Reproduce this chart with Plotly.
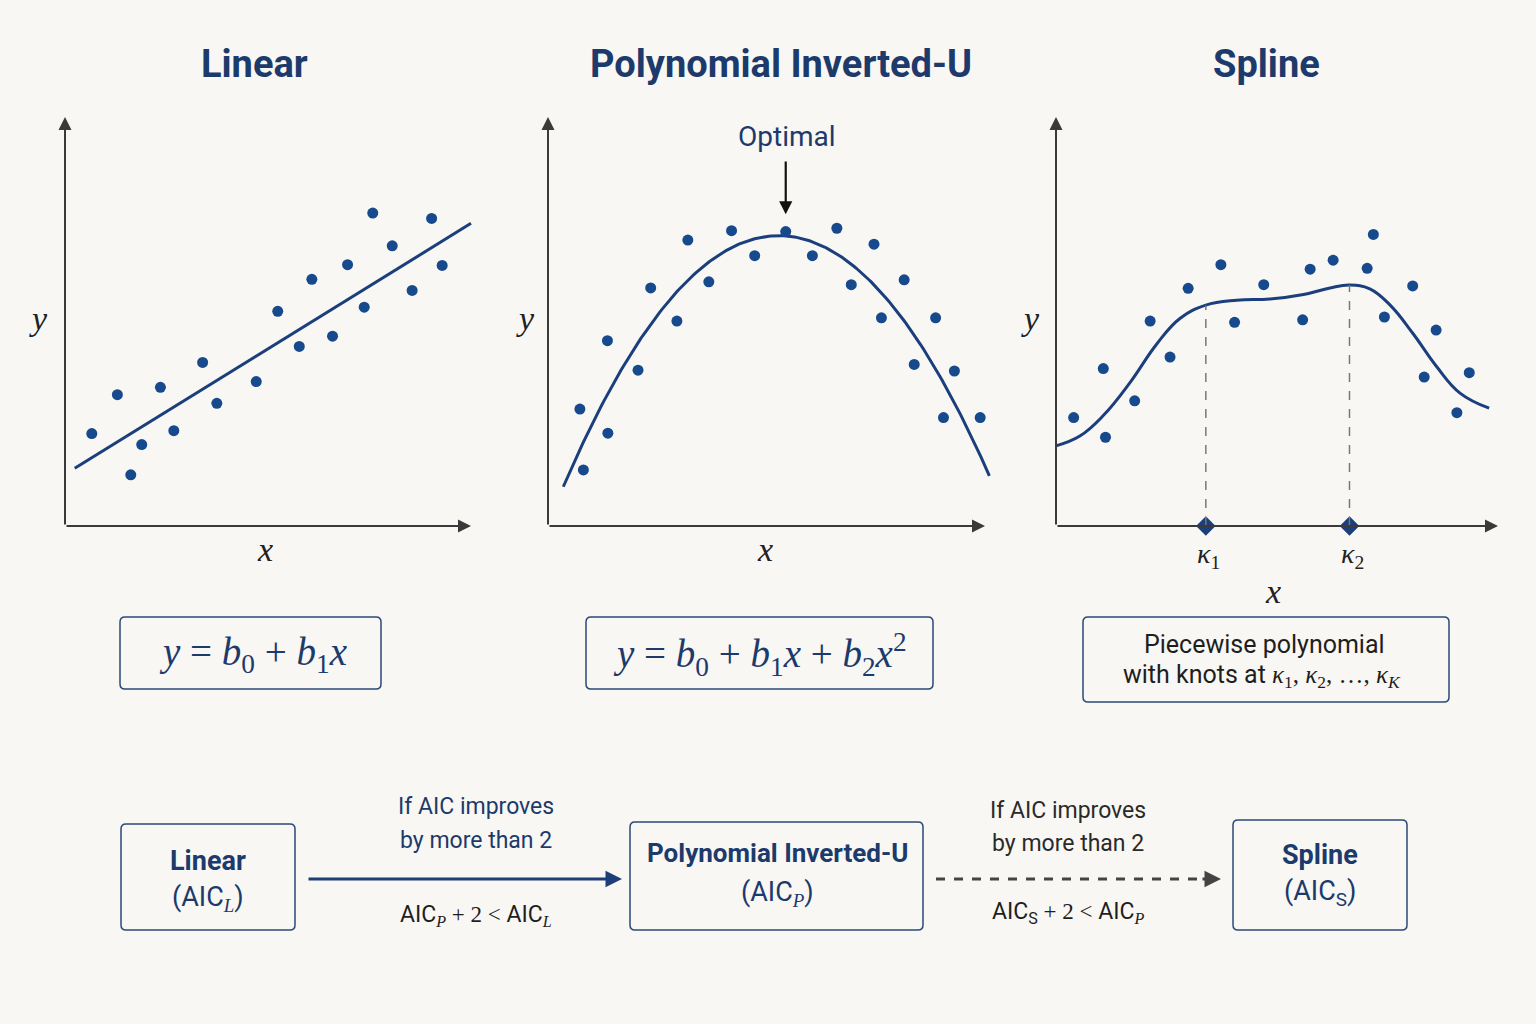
import numpy as np
import plotly.graph_objects as go

W, H = 1536, 1024
BG = "#f8f7f3"
NAVY = "#1c3a6b"
DOT = "#174a8c"
LINE = "#1a3f7c"
AXC = "#3a3a3a"
SANS = "Roboto"
SERIF = "Liberation Serif"

# ---------------- data (unitless 0-10 scales) ----------------
lin_x = [0.66, 1.29, 1.62, 1.89, 2.35, 2.68, 3.39, 3.74, 4.71, 5.24,
         5.77, 6.08, 6.59, 6.96, 7.37, 7.58, 8.06, 8.55, 9.03, 9.29]
lin_y = [2.26, 3.21, 1.25, 1.99, 3.39, 2.33, 4.00, 3.00, 3.53, 5.25,
         4.39, 6.03, 4.64, 6.39, 5.35, 7.65, 6.85, 5.76, 7.52, 6.37]
lin_fit_x = [0.24, 10.0]
lin_fit_y = [1.41, 7.40]

poly_x = [0.73, 0.81, 1.36, 1.37, 2.06, 2.35, 2.95, 3.20, 3.68, 4.20, 4.73, 5.44,
          6.05, 6.61, 6.94, 7.46, 7.63, 8.15, 8.38, 8.87, 9.05, 9.30, 9.89]
poly_y = [2.86, 1.37, 4.53, 2.27, 3.81, 5.82, 5.01, 6.99, 5.97, 7.22, 6.61, 7.20,
          6.61, 7.28, 5.90, 6.89, 5.09, 6.02, 3.95, 5.09, 2.65, 3.79, 2.65]
poly_coef = [0.057, 2.668, -0.2527]   # b0, b1, b2
poly_range = [0.35, 10.10]
optimal_x = 5.44

spl_x = [0.40, 1.07, 1.12, 1.78, 2.13, 2.58, 2.99, 3.73, 4.04, 4.70, 5.58,
         5.75, 6.27, 7.04, 7.18, 7.43, 8.07, 8.33, 8.60, 9.07, 9.35]
spl_y = [2.65, 3.85, 2.17, 3.06, 5.01, 4.13, 5.81, 6.39, 4.98, 5.90, 5.04,
         6.28, 6.50, 6.30, 7.13, 5.11, 5.87, 3.64, 4.79, 2.77, 3.75]
spl_curve_x = [0.0, 0.54, 1.07, 1.67, 2.28, 2.81, 3.39, 4.09, 4.84, 5.60, 6.20,
               6.64, 7.10, 7.56, 8.08, 8.61, 9.14, 9.80]
spl_curve_y = [1.96, 2.20, 2.70, 3.50, 4.45, 5.08, 5.40, 5.52, 5.55, 5.66, 5.82,
               5.89, 5.80, 5.40, 4.70, 3.90, 3.25, 2.88]
knots_x = [3.39, 6.64]
knots_y = [5.40, 5.89]
knot_labels = ["<i>κ</i><sub>1</sub>", "<i>κ</i><sub>2</sub>"]

titles = ["Linear", "Polynomial Inverted-U", "Spline"]

# ---------------- layout geometry (pixels) ----------------
panels = [(65, 471), (548, 985), (1056, 1498)]   # x origin, x arrow tip
TOP, BASE = 117, 526
XR = [-0.3, 10.45]
YR = [-0.3, 10.3]


def PX(x):
    return x / W


def PY(y):
    return 1 - y / H


fig = go.Figure()
layout_axes = {}
sy = (BASE - TOP) / 10.0
for i, (ox, tx) in enumerate(panels):
    sx = (tx - ox) / 10.0
    sfx = "" if i == 0 else str(i + 1)
    layout_axes["xaxis" + sfx] = dict(
        domain=[PX(ox + XR[0] * sx), PX(ox + XR[1] * sx)], range=XR,
        visible=False, anchor="y" + sfx, fixedrange=True)
    layout_axes["yaxis" + sfx] = dict(
        domain=[PY(BASE - YR[0] * sy), PY(BASE - YR[1] * sy)], range=YR,
        visible=False, anchor="x" + sfx, fixedrange=True)

annotations = []
shapes = []


def txt(x, y, text, size, color, family=SANS):
    return dict(x=PX(x), y=PY(y), xref="paper", yref="paper", text=text, showarrow=False,
                xanchor="center", yanchor="middle",
                font=dict(family=family, size=size, color=color))


def serif(s):
    return f"<span style='font-family:{SERIF}'>{s}</span>"


# axis arrows for each panel
for i in range(3):
    sfx = "" if i == 0 else str(i + 1)
    xr, yr = "x" + sfx, "y" + sfx
    annotations.append(dict(x=10, y=0, ax=0, ay=0, xref=xr, yref=yr, axref=xr, ayref=yr,
                            showarrow=True, arrowhead=2, arrowsize=1.3, arrowwidth=2,
                            arrowcolor=AXC, text=""))
    annotations.append(dict(x=0, y=10, ax=0, ay=0, xref=xr, yref=yr, axref=xr, ayref=yr,
                            showarrow=True, arrowhead=2, arrowsize=1.3, arrowwidth=2,
                            arrowcolor=AXC, text=""))

# Panel 1: linear
fig.add_trace(go.Scatter(x=lin_fit_x, y=lin_fit_y, mode="lines",
                         line=dict(color=LINE, width=3), xaxis="x", yaxis="y"))
fig.add_trace(go.Scatter(x=lin_x, y=lin_y, mode="markers",
                         marker=dict(color=DOT, size=11), xaxis="x", yaxis="y"))

# Panel 2: polynomial
px_curve = np.linspace(poly_range[0], poly_range[1], 200)
py_curve = poly_coef[0] + poly_coef[1] * px_curve + poly_coef[2] * px_curve ** 2
fig.add_trace(go.Scatter(x=px_curve, y=py_curve, mode="lines",
                         line=dict(color=LINE, width=3), xaxis="x2", yaxis="y2"))
fig.add_trace(go.Scatter(x=poly_x, y=poly_y, mode="markers",
                         marker=dict(color=DOT, size=11), xaxis="x2", yaxis="y2"))
annotations.append(txt(787, 136, "Optimal", 28, NAVY))
annotations.append(dict(x=optimal_x, y=7.62, ax=optimal_x, ay=8.95, xref="x2", yref="y2",
                        axref="x2", ayref="y2", showarrow=True, arrowhead=2, arrowsize=1.2,
                        arrowwidth=2.2, arrowcolor="#111111", text=""))

# Panel 3: spline
for kx, ky in zip(knots_x, knots_y):
    shapes.append(dict(type="line", xref="x3", yref="y3", x0=kx, x1=kx, y0=0, y1=ky,
                       line=dict(color="#777777", width=1.5, dash="dash")))
fig.add_trace(go.Scatter(x=spl_curve_x, y=spl_curve_y, mode="lines",
                         line=dict(color=LINE, width=3, shape="spline", smoothing=1.2),
                         xaxis="x3", yaxis="y3"))
fig.add_trace(go.Scatter(x=spl_x, y=spl_y, mode="markers",
                         marker=dict(color=DOT, size=11), xaxis="x3", yaxis="y3"))
fig.add_trace(go.Scatter(x=knots_x, y=[0, 0], mode="markers", cliponaxis=False,
                         marker=dict(color="#1a3f7a", size=15, symbol="diamond"),
                         xaxis="x3", yaxis="y3"))
knot_label_px = [1208, 1352]
for kx, lab in zip(knot_label_px, knot_labels):
    annotations.append(txt(kx, 555, lab, 28, "#222222", SERIF))

# axis letter labels (pixel positions)
x_label_pos = [(265, 549), (765, 549), (1273, 591)]
y_label_pos = [(38, 318), (525, 318), (1030, 318)]
for (lx, ly) in x_label_pos:
    annotations.append(txt(lx, ly, "<i>x</i>", 34, "#222222", SERIF))
for (lx, ly) in y_label_pos:
    annotations.append(txt(lx, ly, "<i>y</i>", 34, "#222222", SERIF))

# titles
title_x = [254, 781, 1266]
for t, tx in zip(titles, title_x):
    annotations.append(txt(tx, 64, "<b>" + t + "</b>", 38, NAVY))


def rrect(x0, y0, x1, y1, r=5, color="#2b4a7a", width=1.5, dash="solid"):
    rx, ry = r / W, r / H
    X0, X1, Y0, Y1 = PX(x0), PX(x1), PY(y0), PY(y1)
    path = (f"M {X0+rx},{Y0} L {X1-rx},{Y0} Q {X1},{Y0} {X1},{Y0-ry} "
            f"L {X1},{Y1+ry} Q {X1},{Y1} {X1-rx},{Y1} L {X0+rx},{Y1} "
            f"Q {X0},{Y1} {X0},{Y1+ry} L {X0},{Y0-ry} Q {X0},{Y0} {X0+rx},{Y0} Z")
    return dict(type="path", xref="paper", yref="paper", path=path,
                line=dict(color=color, width=width, dash=dash))


# formula boxes
shapes.append(rrect(120, 617, 381, 689))
shapes.append(rrect(586, 617, 933, 689))
shapes.append(rrect(1083, 617, 1449, 702))
annotations.append(txt(253, 654, "<i>y</i> = <i>b</i><sub>0</sub> + <i>b</i><sub>1</sub><i>x</i>",
                       39, NAVY, SERIF))
annotations.append(txt(760, 654, "<i>y</i> = <i>b</i><sub>0</sub> + <i>b</i><sub>1</sub><i>x</i>"
                       " + <i>b</i><sub>2</sub><i>x</i><sup>2</sup>", 39, NAVY, SERIF))
annotations.append(txt(1264, 644, "Piecewise polynomial", 25, "#1e1e1e"))
annotations.append(txt(1262, 676, "with knots at " + serif("<i>κ</i><sub>1</sub>, <i>κ</i><sub>2</sub>, …, "
                       "<i>κ<sub>K</sub></i>"), 25, "#1e1e1e"))

# flowchart boxes
shapes.append(rrect(121, 824, 295, 930))
shapes.append(rrect(630, 822, 923, 930))
shapes.append(rrect(1233, 820, 1407, 930))
annotations.append(txt(208, 861, "<b>Linear</b>", 27, NAVY))
annotations.append(txt(208, 898, "(AIC<sub>" + serif("<i>L</i>") + "</sub>)", 27, NAVY))
annotations.append(txt(777, 853, "<b>Polynomial Inverted-U</b>", 26, NAVY))
annotations.append(txt(777, 893, "(AIC<sub>" + serif("<i>P</i>") + "</sub>)", 27, NAVY))
annotations.append(txt(1320, 855, "<b>Spline</b>", 27, NAVY))
annotations.append(txt(1320, 893, "(AIC<sub>S</sub>)", 27, NAVY))

# flow arrow 1 (solid)
annotations.append(dict(x=PX(622), y=PY(879), ax=307 - 622, ay=0, xref="paper",
                        yref="paper", axref="pixel", ayref="pixel", showarrow=True,
                        arrowhead=2, arrowsize=1.1, arrowwidth=3, arrowcolor="#1c3f78", text=""))
annotations.append(txt(476, 806, "If AIC improves", 23, NAVY))
annotations.append(txt(476, 840, "by more than 2", 23, NAVY))
annotations.append(txt(476, 915, "AIC<sub>" + serif("<i>P</i>") + "</sub>" + serif(" + 2 &lt; ")
                       + "AIC<sub>" + serif("<i>L</i>") + "</sub>", 23, "#1e1e1e"))

# flow arrow 2 (dashed)
shapes.append(dict(type="line", xref="paper", yref="paper", x0=PX(936), x1=PX(1206),
                   y0=PY(879), y1=PY(879), line=dict(color="#444444", width=3, dash="dash")))
annotations.append(dict(x=PX(1221), y=PY(879), ax=-20, ay=0, xref="paper",
                        yref="paper", axref="pixel", ayref="pixel", showarrow=True,
                        arrowhead=2, arrowsize=1.1, arrowwidth=3, arrowcolor="#444444", text=""))
annotations.append(txt(1068, 810, "If AIC improves", 23, "#2a2a2a"))
annotations.append(txt(1068, 843, "by more than 2", 23, "#2a2a2a"))
annotations.append(txt(1068, 913, "AIC<sub>S</sub>" + serif(" + 2 &lt; ") + "AIC<sub>"
                       + serif("<i>P</i>") + "</sub>", 23, "#1e1e1e"))

fig.update_layout(width=W, height=H, margin=dict(l=0, r=0, t=0, b=0),
                  paper_bgcolor=BG, plot_bgcolor=BG, showlegend=False,
                  annotations=annotations, shapes=shapes, **layout_axes)
fig.write_html("out.html", config={"displayModeBar": False})
